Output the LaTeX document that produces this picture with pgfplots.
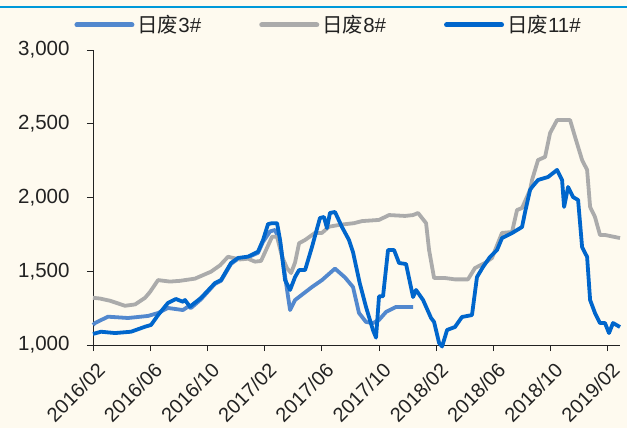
\documentclass[border=0pt]{standalone}
\usepackage{pgfplots}
\pgfplotsset{compat=1.18}
\usepackage{pgfplotstable}
\usepackage{fontspec}
\setmainfont{Liberation Sans}
\newfontfamily\cjk{Noto Sans CJK SC}
\definecolor{bg}{HTML}{FEFAEF}
\definecolor{topblue}{HTML}{0099D9}
\definecolor{lblue}{HTML}{5288CE}
\definecolor{lgray}{HTML}{ABABAB}
\definecolor{dblue}{HTML}{0066CC}
\definecolor{txt}{HTML}{222222}

\pgfplotstableread{
m v
0 1136
0.14 1149
1.05 1192
2.45 1183
3.85 1197
4.55 1217
5.24 1251
6.29 1237
6.64 1260
6.85 1251
7.55 1310
8.53 1415
8.95 1435
9.65 1550
10.14 1585
10.84 1595
11.54 1625
11.89 1700
12.38 1770
12.73 1780
13.08 1700
13.57 1373
13.78 1237
14.13 1305
15.31 1393
16.01 1440
16.92 1518
17.62 1458
18.18 1393
18.60 1217
19.09 1156
19.58 1149
20.0 1170
20.49 1224
21.19 1258
22.38 1258
}\tblA

\pgfplotstableread{
m v
0 1320
0.49 1315
1.19 1300
2.24 1266
2.94 1275
3.64 1320
3.99 1360
4.55 1440
5.38 1430
6.08 1435
7.13 1450
8.25 1497
8.88 1540
9.44 1598
10.28 1580
10.84 1585
11.33 1565
11.75 1570
12.10 1644
12.52 1734
12.87 1734
13.22 1599
13.57 1520
13.85 1488
14.13 1560
14.41 1690
14.83 1712
15.52 1760
16.01 1760
16.50 1802
17.27 1815
18.25 1826
18.81 1840
20.0 1848
20.70 1881
21.82 1875
22.38 1881
22.73 1895
23.29 1826
23.50 1644
23.85 1454
24.62 1454
25.31 1445
26.22 1445
26.71 1522
27.41 1556
27.90 1590
28.60 1760
29.30 1766
29.65 1915
30.0 1929
30.56 2051
30.70 2119
31.12 2254
31.61 2275
31.96 2437
32.45 2525
33.36 2525
33.71 2410
34.20 2254
34.55 2187
34.76 1936
35.10 1868
35.45 1746
35.80 1746
36.85 1725
}\tblB

\pgfplotstableread{
m v
0 1075
0.56 1090
1.54 1081
2.66 1090
3.64 1124
4.06 1136
4.55 1203
5.24 1285
5.80 1312
6.29 1293
6.43 1305
6.78 1260
7.55 1319
8.53 1420
8.95 1440
9.65 1556
10.14 1590
10.84 1599
11.54 1633
11.89 1712
12.24 1820
12.52 1826
12.87 1826
13.08 1712
13.43 1440
13.78 1373
14.13 1461
14.41 1508
14.83 1508
15.31 1664
15.87 1861
16.15 1868
16.36 1793
16.57 1895
16.92 1902
17.41 1800
17.90 1712
18.18 1630
18.65 1420
19.09 1258
19.58 1100
19.79 1050
20.0 1330
20.28 1330
20.63 1644
21.05 1644
21.40 1556
21.89 1549
22.38 1325
22.59 1373
23.08 1305
23.64 1183
23.85 1156
24.20 1014
24.41 990
24.76 1102
25.31 1122
25.80 1190
26.50 1203
26.85 1461
27.27 1529
27.76 1597
28.25 1644
28.60 1725
29.30 1759
30.0 1800
30.21 1900
30.56 2051
30.70 2071
31.12 2119
31.82 2139
32.45 2187
32.80 2119
32.94 1936
33.22 2071
33.57 2003
33.92 1983
34.20 1664
34.55 1597
34.76 1305
35.10 1217
35.45 1149
35.80 1149
36.08 1081
36.36 1149
36.85 1122
}\tblC

\begin{document}
\begin{tikzpicture}[x=1pt,y=1pt]
\fill[bg] (0,0) rectangle (627,-428);
\useasboundingbox (0,0) rectangle (627,-428);
\draw[topblue, line width=2.5pt] (0,-7) -- (627,-7);
\begin{axis}[
  at={(93pt,-345pt)}, anchor=south west,
  scale only axis, width=527pt, height=295pt,
  xmin=0, xmax=36.85, ymin=1000, ymax=3000,
  clip=false,
  axis lines=left,
  axis line style={-, color=txt, line width=0.8pt},
  tick style={color=txt, line width=0.8pt},
  tick align=outside,
  major tick length=6pt,
  xtick={0,4,...,36},
  xticklabels={2016/02,2016/06,2016/10,2017/02,2017/06,2017/10,2018/02,2018/06,2018/10,2019/02},
  ytick={1000,1500,2000,2500,3000},
  scaled y ticks=false,
  /pgf/number format/assume math mode=true,
  /pgf/number format/1000 sep={,},
  ticklabel style={font=\fontsize{20}{22}\selectfont, text=txt},
  x tick label style={xshift=3pt, yshift=-9pt, rotate=45, anchor=north east, inner sep=1pt},
  y tick label style={xshift=-14pt, font=\fontsize{20.5}{23}\selectfont},
  legend columns=3,
  legend style={at={(0.448,1.085)}, anchor=center, draw=none, fill=none,
    font=\fontsize{20.5}{23}\selectfont, text=txt,
    /tikz/every even column/.append style={column sep=55pt},
    nodes={inner sep=3pt}},
  legend image code/.code={\draw[#1, line cap=round, line width=5pt] (0pt,0pt) -- (55pt,0pt);},
]
\addplot[lblue, line width=3.8pt, line join=round] table[x=m,y=v] {\tblA};
\addlegendentry{{\cjk 日废}3\#}
\addplot[lgray, line width=3.8pt, line join=round] table[x=m,y=v] {\tblB};
\addlegendentry{{\cjk 日废}8\#}
\addplot[dblue, line width=3.8pt, line join=round] table[x=m,y=v] {\tblC};
\addlegendentry{{\cjk 日废}11\#}
\end{axis}
\end{tikzpicture}
\end{document}
